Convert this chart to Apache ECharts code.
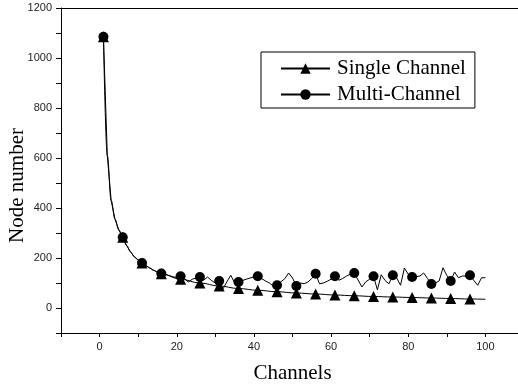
<!DOCTYPE html>
<html>
<head>
<meta charset="utf-8">
<script src="https://cdn.jsdelivr.net/npm/echarts@6/dist/echarts.min.js"></script>
<style>
  html, body { margin: 0; background: #fff; }
  #chart { width: 518px; height: 388px; }
</style>
</head>
<body>
<div id="chart"></div>
<script>
// single channel: smooth decay curve
const singleX = [1, 2, 3, 4, 5, 6, 7, 8, 9, 10, 11, 12, 13, 14, 15, 16, 21, 26, 31, 36, 41, 46, 51, 56, 61, 66, 71, 76, 81, 86, 91, 96, 100];
const singleY = [1085, 610, 430, 355, 312, 283, 250, 225, 205, 192, 180, 170, 160, 151, 144, 137, 115, 100, 88, 78, 71, 65, 60, 56, 52, 49, 46, 44, 42, 40, 38, 36, 35];

// multi channel: one value per channel, 1..100
const multiY = [
  1085, 610, 430, 355, 312, 283, 250, 225, 205, 192,
  180, 170, 160, 151, 144, 138, 134, 130, 125, 122,
  127, 118, 104, 115, 120, 124, 112, 124, 110, 100,
  108, 77, 105, 131, 100, 104, 110, 115, 120, 124,
  127, 118, 108, 100, 88, 91, 105, 117, 140, 120,
  88, 100, 97, 104, 118, 137, 97, 100, 107, 115,
  127, 111, 118, 128, 135, 140, 112, 84, 105, 115,
  127, 73, 133, 110, 97, 131, 120, 91, 160, 135,
  124, 125, 128, 140, 118, 96, 100, 108, 161, 130,
  108, 144, 121, 128, 128, 131, 110, 91, 121, 121
];

// channels that carry a marker
const markerX = [1, 6, 11, 16, 21, 26, 31, 36, 41, 46, 51, 56, 61, 66, 71, 76, 81, 86, 91, 96];

const xTickLabels = [0, 20, 40, 60, 80, 100];
const yTickLabels = [0, 200, 400, 600, 800, 1000, 1200];

const chart = echarts.init(document.getElementById('chart'));

const singleData = singleX.map((x, i) => ({
  value: [x, singleY[i]],
  symbol: markerX.includes(x) ? 'triangle' : 'none'
}));
const multiData = multiY.map((y, i) => ({
  value: [i + 1, y],
  symbol: markerX.includes(i + 1) ? 'circle' : 'none'
}));

const serif = '"Liberation Serif", "Times New Roman", serif';
const sans = '"Liberation Sans", Arial, sans-serif';

chart.setOption({
  animation: false,
  backgroundColor: '#fff',
  grid: { left: 61, right: -6, top: 8, bottom: 55, outerBoundsMode: 'none', containLabel: false },
  legend: {
    orient: 'vertical',
    left: 261,
    top: 52,
    padding: [6, 9, 3, 19],
    itemGap: 5,
    itemWidth: 49,
    itemHeight: 13,
    backgroundColor: '#fff',
    borderColor: '#000',
    borderWidth: 1,
    borderRadius: 0,
    textStyle: { fontFamily: serif, fontSize: 21, color: '#000', padding: [0, 0, 0, 2] },
    data: ['Single Channel', 'Multi-Channel']
  },
  xAxis: [{
    type: 'value',
    min: -10,
    max: 110,
    interval: 10,
    name: 'Channels',
    nameLocation: 'middle',
    nameGap: 30,
    nameMoveOverlap: false,
    nameTextStyle: { fontFamily: serif, fontSize: 21, color: '#000' },
    axisLine: { onZero: false, lineStyle: { color: '#000', width: 1 } },
    axisTick: { inside: false, length: 4, lineStyle: { color: '#000' } },
    axisLabel: {
      margin: 8,
      fontFamily: sans,
      fontSize: 11,
      color: '#222',
      formatter: v => (xTickLabels.includes(v) ? String(v) : '')
    },
    splitLine: { show: false }
  }, {
    type: 'value',
    position: 'top',
    min: -10,
    max: 110,
    interval: 10,
    axisLine: { onZero: false, lineStyle: { color: '#000', width: 1 } },
    axisTick: { show: false },
    axisLabel: { show: false },
    splitLine: { show: false }
  }],
  yAxis: {
    type: 'value',
    min: -100,
    max: 1200,
    interval: 100,
    name: 'Node number',
    nameLocation: 'middle',
    nameGap: 33,
    nameMoveOverlap: false,
    nameTextStyle: { fontFamily: serif, fontSize: 21, color: '#000', padding: [0, 30, 0, 0] },
    axisLine: { onZero: false, lineStyle: { color: '#000', width: 1 } },
    axisTick: { inside: false, length: 5, lineStyle: { color: '#000' } },
    axisLabel: {
      margin: 9,
      fontFamily: sans,
      fontSize: 11,
      color: '#222',
      formatter: v => (yTickLabels.includes(v) ? String(v) : '')
    },
    splitLine: { show: false }
  },
  series: [{
    name: 'Single Channel',
    type: 'line',
    data: singleData,
    smooth: 0.4,
    smoothMonotone: 'x',
    symbol: 'triangle',
    symbolSize: 11,
    showAllSymbol: true,
    lineStyle: { color: '#000', width: 1 },
    itemStyle: { color: '#000' },
    z: 3
  }, {
    name: 'Multi-Channel',
    type: 'line',
    data: multiData,
    symbol: 'circle',
    symbolSize: 10,
    showAllSymbol: true,
    lineStyle: { color: '#000', width: 1 },
    itemStyle: { color: '#000' },
    z: 2
  }]
});
</script>
</body>
</html>
